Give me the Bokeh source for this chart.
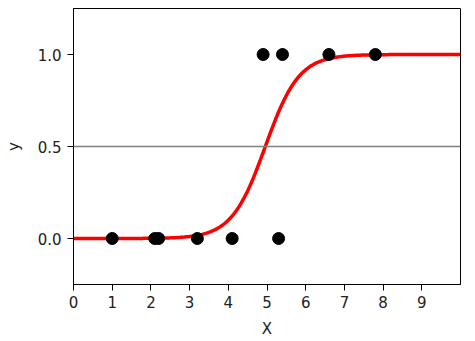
import numpy as np
from bokeh.plotting import figure
from bokeh.models import Span, FixedTicker, Range1d
from bokeh.embed import file_html
from bokeh.resources import INLINE

# observed data
x_obs = [1.0, 2.1, 2.2, 3.2, 4.1, 4.9, 5.3, 5.4, 6.6, 7.8]
y_obs = [0, 0, 0, 0, 0, 1, 0, 1, 1, 1]

# fitted logistic model parameters
coef = 2.3
intercept = -11.4

x_ticks = [0, 1, 2, 3, 4, 5, 6, 7, 8, 9]
y_ticks = [0.0, 0.5, 1.0]
threshold = 0.5

x_curve = np.linspace(0, 10, 400)
y_curve = 1.0 / (1.0 + np.exp(-(coef * x_curve + intercept)))

p = figure(width=475, height=341, output_backend="svg", toolbar_location=None,
           x_range=Range1d(0, 10), y_range=Range1d(-0.25, 1.25),
           min_border_left=73, min_border_right=15, min_border_top=8, min_border_bottom=57)
p.background_fill_color = "white"
p.border_fill_color = "white"
p.outline_line_color = "black"
p.outline_line_width = 1
p.xgrid.visible = False
p.ygrid.visible = False

p.add_layout(Span(location=threshold, dimension="width", line_color="gray", line_width=1.5))
p.line(x_curve, y_curve, line_color="red", line_width=3.5)
p.scatter(x_obs, y_obs, size=12, fill_color="black", line_color="black")

p.xaxis.ticker = FixedTicker(ticks=x_ticks)
p.yaxis.ticker = FixedTicker(ticks=y_ticks)
p.yaxis.major_label_overrides = {0.0: "0.0", 0.5: "0.5", 1.0: "1.0"}
p.xaxis.axis_label = "X"
p.yaxis.axis_label = "y"
for ax in (p.xaxis, p.yaxis):
    ax.major_tick_in = 0
    ax.major_tick_out = 6
    ax.minor_tick_line_color = None
    ax.axis_line_color = "black"
    ax.major_tick_line_color = "black"
    ax.major_label_text_font = "DejaVu Sans"
    ax.major_label_text_font_size = "15px"
    ax.major_label_text_color = "#222222"
    ax.axis_label_text_font = "DejaVu Sans"
    ax.axis_label_text_font_size = "15px"
    ax.axis_label_text_font_style = "normal"
    ax.axis_label_text_color = "#222222"
p.xaxis.major_label_standoff = 5
p.yaxis.major_label_standoff = 6
p.xaxis.axis_label_standoff = 9
p.yaxis.axis_label_standoff = 12

open("out.html", "w").write(file_html(p, INLINE))
